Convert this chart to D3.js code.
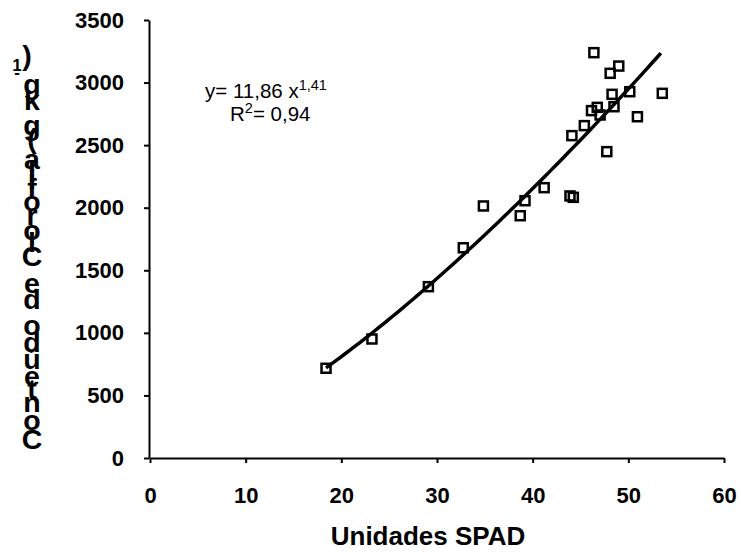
<!DOCTYPE html>
<html>
<head>
<meta charset="utf-8">
<script src="https://cdn.jsdelivr.net/npm/d3@7"></script>
<style>
  body { margin: 0; background: #fff; }
  text { font-family: "Liberation Sans", Arial, sans-serif; }
</style>
</head>
<body>
<script>
// chart size
var width = 741;
var height = 552;

// data: SPAD units vs chlorophyll
var spad = [18.4, 23.2, 29.1, 32.75, 34.85, 38.7, 39.2, 41.2, 43.9, 44.25, 44.1, 45.4,
            46.15, 46.75, 47.05, 46.4, 47.75, 48.1, 48.3, 48.5, 49.0, 50.15, 50.95, 53.55];
var clorofila = [717, 951, 1369, 1680, 2014, 1936, 2056, 2160, 2094, 2083, 2576, 2656,
                 2776, 2802, 2741, 3239, 2448, 3074, 2906, 2807, 3132, 2927, 2727, 2914];

// fitted power curve y = a * x^b, drawn between the smallest and largest x
var fitA = 11.86;
var fitB = 1.41;

var xTicks = [0, 10, 20, 30, 40, 50, 60];
var yTicks = [0, 500, 1000, 1500, 2000, 2500, 3000, 3500];

var xTitle = "Unidades SPAD";
var yTitle = "Conteúdo de Clorofila (g kg";
var yTitleSup = "-1";
var yTitleEnd = ")";

var svg = d3.select("body")
            .append("svg")
            .attr("width", width)
            .attr("height", height);

var x = d3.scaleLinear().domain([0, 60]).range([150, 724]);
var y = d3.scaleLinear().domain([0, 3500]).range([458, 20]);

// x axis
var gx = svg.append("g")
            .attr("transform", "translate(0,458)")
            .call(d3.axisBottom(x).tickValues(xTicks).tickFormat(d3.format("d"))
                    .tickSize(5).tickSizeOuter(0).tickPadding(24));
gx.select(".domain").attr("stroke", "#000").attr("stroke-width", 2);
gx.selectAll(".tick line").attr("stroke", "#000").attr("stroke-width", 2);
gx.selectAll("text")
  .attr("fill", "#000")
  .style("font-size", "22px")
  .style("font-weight", "bold");

// y axis
var gy = svg.append("g")
            .attr("transform", "translate(149,0)")
            .call(d3.axisLeft(y).tickValues(yTicks).tickFormat(d3.format("d"))
                    .tickSize(5).tickSizeOuter(0).tickPadding(20));
gy.select(".domain").attr("stroke", "#000").attr("stroke-width", 2);
gy.selectAll(".tick line").attr("stroke", "#000").attr("stroke-width", 2);
gy.selectAll("text")
  .attr("fill", "#000")
  .style("font-size", "22px")
  .style("font-weight", "bold");

// x title
svg.append("text")
   .attr("x", 428)
   .attr("y", 545)
   .attr("text-anchor", "middle")
   .style("font-size", "26px")
   .style("font-weight", "bold")
   .text(xTitle);

// y title: one text, glyphs stacked upright, each moved up by its own width
var yLab = svg.append("text")
              .attr("text-anchor", "middle")
              .style("font-weight", "bold")
              .style("white-space", "pre");
var measure = svg.append("text").style("font-weight", "bold").style("white-space", "pre");
var pos = 449;
function stackGlyphs(chars, size, cx) {
  chars.forEach(function(c) {
    measure.style("font-size", size + "px").text(c);
    var w = measure.node().getComputedTextLength();
    yLab.append("tspan")
        .attr("x", cx)
        .attr("y", pos - w / 2)
        .attr("dy", "0.35em")
        .style("font-size", size + "px")
        .text(c);
    pos -= w;
  });
}
stackGlyphs(Array.from(yTitle), 28.5, 32);
stackGlyphs(Array.from(yTitleSup), 17, 17);
stackGlyphs([yTitleEnd], 28.5, 27);
measure.remove();

// markers
svg.append("g")
   .selectAll("rect")
   .data(spad.map(function(d, i) { return [d, clorofila[i]]; }))
   .enter()
   .append("rect")
   .attr("x", function(d) { return x(d[0]) - 4.5; })
   .attr("y", function(d) { return y(d[1]) - 4.5; })
   .attr("width", 9)
   .attr("height", 9)
   .attr("fill", "none")
   .attr("stroke", "#000")
   .attr("stroke-width", 2.5);

// trend line
var xs = d3.range(d3.min(spad), d3.max(spad) + 0.01, 0.5);
svg.append("path")
   .datum(xs)
   .attr("fill", "none")
   .attr("stroke", "#000")
   .attr("stroke-width", 3.5)
   .attr("d", d3.line()
                .x(function(d) { return x(d); })
                .y(function(d) { return y(fitA * Math.pow(d, fitB)); }));

// equation
var eq = svg.append("text")
            .attr("x", 205)
            .attr("y", 98)
            .style("font-size", "20.5px");
eq.append("tspan").text("y= 11,86 x");
eq.append("tspan").attr("dy", -8).style("font-size", "14.5px").text("1,41");

var r2 = svg.append("text")
            .attr("x", 230)
            .attr("y", 121)
            .style("font-size", "20.5px");
r2.append("tspan").text("R");
r2.append("tspan").attr("dy", -8).style("font-size", "14.5px").text("2");
r2.append("tspan").attr("dy", 8).text("= 0,94");
</script>
</body>
</html>
